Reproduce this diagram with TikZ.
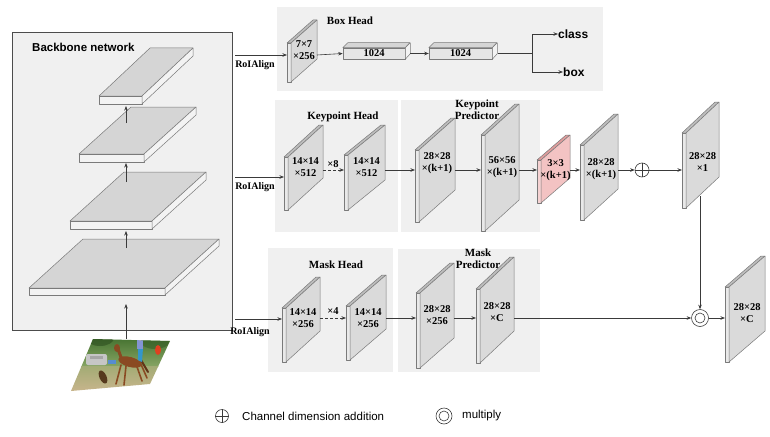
\documentclass[tikz,border=0pt]{standalone}
\usepackage{fontspec}
\setmainfont{Liberation Serif}
\newfontfamily\arialf{Liberation Sans}
\usetikzlibrary{arrows.meta}
\definecolor{edgec}{HTML}{7A7A7A}
\definecolor{linec}{HTML}{3A3A3A}
\definecolor{panelc}{HTML}{F0F0F0}
\definecolor{gstrip}{HTML}{E9E9E9}
\definecolor{gtop}{HTML}{BDBDBD}
\definecolor{gface}{HTML}{DADADA}
\definecolor{rstrip}{HTML}{F5D2D2}
\definecolor{rtop}{HTML}{E09C9C}
\definecolor{rface}{HTML}{F3C3C3}
\definecolor{slabtop}{HTML}{D5D5D5}
\definecolor{slabfront}{HTML}{F3F3F3}
\definecolor{boxfront}{HTML}{E6E6E6}
\definecolor{treec}{HTML}{3F6E2C}
\definecolor{grassc}{HTML}{86A463}
\definecolor{sandc}{HTML}{CDB68F}
\definecolor{horsec}{HTML}{8A4A22}
\tikzset{
  edge/.style={draw=edgec, line width=0.5pt, line join=round},
  arr/.style={draw=linec, line width=0.6pt, -{Stealth[length=4.5pt,width=3.5pt]}},
  plainline/.style={draw=linec, line width=0.6pt},
  ptext/.style={font=\fontsize{10.5}{12}\selectfont\bfseries, align=center, inner sep=0pt},
  titletext/.style={font=\fontsize{11}{11.5}\selectfont\bfseries, align=center, inner sep=0pt},
  roitext/.style={font=\fontsize{10}{12}\selectfont\bfseries, inner sep=0pt},
  sanslab/.style={font=\arialf\bfseries\fontsize{12}{14}\selectfont, inner sep=0pt},
  legtext/.style={font=\arialf\fontsize{11.5}{13}\selectfont, inner sep=0pt, anchor=west},
  panel/.style={fill=panelc, draw=none},
}
% plate: name, xl, ytop, h, dx, dy, colour prefix, text, text y
\newcommand\plt[9]{%
  \draw[edge, fill=#7strip] (#2,#3) rectangle ({#2+4},{#3+#4});
  \draw[edge, fill=#7top] (#2,#3) -- ({#2+#5},{#3-#6}) -- ({#2+4+#5},{#3-#6}) -- ({#2+4},#3) -- cycle;
  \draw[edge, fill=#7face] ({#2+4},#3) -- ({#2+4+#5},{#3-#6}) -- ({#2+4+#5},{#3-#6+#4}) -- ({#2+4},{#3+#4}) -- cycle;
  \coordinate (#1w) at (#2,\rowy);
  \coordinate (#1e) at ({#2+4+#5},\rowy);
  \node[ptext] (#1) at ({#2+4+#5/2},#9) {#8};
}
% slab: xl, yfront, w, t, ox, oy
\newcommand\slab[6]{%
  \draw[edge, fill=slabtop] (#1,#2) -- ({#1+#5},{#2-#6}) -- ({#1+#3+#5},{#2-#6}) -- ({#1+#3},#2) -- cycle;
  \draw[edge, fill=slabfront] (#1,#2) rectangle ({#1+#3},{#2+#4});
  \draw[edge, fill=slabfront] ({#1+#3},#2) -- ({#1+#3+#5},{#2-#6}) -- ({#1+#3+#5},{#2-#6+#4}) -- ({#1+#3},{#2+#4}) -- cycle;
}
\begin{document}
\begin{tikzpicture}[x=1pt,y=-1pt]
\useasboundingbox (0,0) rectangle (770,436);
% panels
\fill[panelc] (277,7) rectangle (603,91);
\fill[panelc] (275,100) rectangle (398,232);
\fill[panelc] (401,100) rectangle (540,232);
\fill[panelc] (268,248) rectangle (393,372);
\fill[panelc] (398,249) rectangle (540,372);
% backbone
\node[draw=black!70, line width=0.7pt, fill=panelc, minimum width=220pt, minimum height=298pt, inner sep=0pt, anchor=north west] (bb) at (12,32) {};
\node[sanslab, font=\arialf\bfseries\fontsize{11.5}{13}\selectfont, anchor=west] (bbl) at (32,47) {Backbone network};
\slab{99}{96}{43}{8}{51}{48}
\slab{79}{154}{65}{8}{52}{47}
\slab{70}{221}{82}{8}{54}{49}
\slab{29}{288}{136}{7}{54}{49}
\coordinate (s2up) at (126,123); \coordinate (s1dn) at (126,106);
\coordinate (s3up) at (126,182); \coordinate (s2dn) at (126,163);
\coordinate (s4up) at (126,248); \coordinate (s3dn) at (126,231);
\coordinate (imgtop) at (126,339); \coordinate (s4dn) at (126,304);
\draw[arr] (s2up) -- (s1dn);
\draw[arr] (s3up) -- (s2dn);
\draw[arr] (s4up) -- (s3dn);
\draw[arr] (imgtop) -- (s4dn);
% image (photo of a rider on a horse)
\begin{scope}
\clip (93,339) -- (170,341) -- (150,384) -- (71,391) -- cycle;
\shade[top color=treec, bottom color=grassc] (60,335) rectangle (175,366);
\shade[top color=grassc!60!sandc, bottom color=sandc] (60,366) rectangle (175,395);
\fill[treec!70!black, opacity=0.6] (100,338) ellipse (14pt and 8pt);
\fill[treec!80!black, opacity=0.5] (155,342) ellipse (14pt and 7pt);
\fill[gray!45, rounded corners=2pt] (86,354) rectangle (107,365);
\fill[gray!70] (90,356) rectangle (103,359);
\fill[cyan!50!blue!70] (108,360) rectangle (116,364);
\fill[horsec, rotate around={-15:(130,362)}] (130,362) ellipse (12pt and 5pt);
\draw[horsec, line width=3pt, line cap=round] (122,360) -- (118,349);
\fill[horsec] (117,348) ellipse (3pt and 4pt);
\draw[horsec, line width=1.6pt, line cap=round] (121,365) -- (116,384) (126,366) -- (124,385) (136,364) -- (142,381) (140,362) -- (147,378);
\draw[horsec!70!black, line width=2pt, line cap=round] (141,360) -- (148,372);
\fill[blue!35!cyan!60!gray] (138,348) -- (143,348) -- (142,362) -- (138,360) -- cycle;
\fill[cyan!30!blue!50] (137,340) rectangle (143,349);
\fill[brown!60!white] (140,338) circle (2.5pt);
\fill[brown!45!black, rotate around={25:(103,377)}] (103,377) ellipse (3.5pt and 7pt);
\fill[red!50!brown] (158,350) ellipse (3pt and 5pt);
\end{scope}
% RoIAlign
\coordinate (roi1) at (235,55);
\coordinate (roi2) at (235,177);
\coordinate (roi3) at (235,319);
\node[roitext] (r1) at (255,65) {RoIAlign};
\node[roitext] (r2) at (255,187) {RoIAlign};
\node[roitext] (r3) at (250,332) {RoIAlign};
% box head
\def\rowy{55}
\node[titletext] (boxhead) at (350,21) {Box Head};
\plt{P0}{287}{43}{39}{26}{23}{g}{7×7\\×256}{50}
\draw[arr] (roi1) -- (P0w);
\node[edge, fill=boxfront, minimum width=62pt, minimum height=11pt, inner sep=0pt, font=\fontsize{10.5}{12}\selectfont\bfseries] (B1) at (374,53.5) {1024};
\draw[edge, fill=slabtop] (B1.north west) -- ++(5,-5) -- ++(62,0) -- (B1.north east) -- cycle;
\draw[edge, fill=slabfront] (B1.north east) -- ++(5,-5) -- ++(0,11) -- (B1.south east) -- cycle;
\node[edge, fill=boxfront, minimum width=63pt, minimum height=11pt, inner sep=0pt, font=\fontsize{10.5}{12}\selectfont\bfseries] (B2) at (460.5,53.5) {1024};
\draw[edge, fill=slabtop] (B2.north west) -- ++(5,-5) -- ++(63,0) -- (B2.north east) -- cycle;
\draw[edge, fill=slabfront] (B2.north east) -- ++(5,-5) -- ++(0,11) -- (B2.south east) -- cycle;
\draw[arr] (P0e) -- (B1.west);
\draw[arr] ([xshift=5pt]B1.east) -- (B2.west);
\coordinate (B2out) at (498,53);
\coordinate (split) at (532,53);
\node[sanslab, anchor=west] (cls) at (558,34) {class};
\node[sanslab, anchor=west] (bx) at (563,72) {box};
\draw[plainline] (B2out) -- (split);
\draw[arr] (split) |- (cls.west);
\draw[arr] (split) |- (bx.west);
% keypoint branch
\def\rowy{170}
\node[titletext] (kphead) at (343,117) {Keypoint Head};
\node[titletext] (kppred) at (477,109.5) {Keypoint\\Predictor};
\plt{K1}{284}{157}{53}{35}{32}{g}{14×14\\×512}{167}
\plt{K2}{344}{155}{55}{37}{30}{g}{14×14\\×512}{167}
\plt{K3}{415}{150}{72}{36}{32}{g}{28×28\\×(k+1)}{163}
\plt{K4}{481}{135}{96}{34}{31}{g}{56×56\\×(k+1)}{167.5}
\plt{K5}{537}{160}{43}{29}{25}{r}{3×3\\×(k+1)}{170}
\plt{K6}{580}{145}{75}{34}{31}{g}{28×28\\×(k+1)}{169}
\plt{K7}{682}{133}{75}{33}{31}{g}{28×28\\×1}{162.5}
\draw[arr] (roi2) -- (roi2 -| K1w);
\draw[arr, densely dashed] (K1e) -- (K2w);
\node[ptext] (x8) at (333,164) {×8};
\draw[arr] (K2e) -- (K3w);
\draw[arr] (K3e) -- (K4w);
\draw[arr] (K4e) -- (K5w);
\draw[arr] (K5e) -- (K6w);
\node[circle, draw=linec, line width=0.6pt, minimum size=14pt, inner sep=0pt] (plus) at (642,170) {};
\draw[linec, line width=0.6pt] (plus.north) -- (plus.south) (plus.west) -- (plus.east);
\draw[arr] (K6e) -- (plus.west);
\draw[arr] (plus.east) -- (K7w);
% mask branch
\def\rowy{318}
\node[titletext] (mkhead) at (336,265) {Mask Head};
\node[titletext] (mkpred) at (478,258.5) {Mask\\Predictor};
\plt{M1}{282}{308}{54}{34}{31}{g}{14×14\\×256}{318.5}
\plt{M2}{346}{306}{54}{36}{31}{g}{14×14\\×256}{318.5}
\plt{M3}{416}{293}{75}{34}{30}{g}{28×28\\×256}{315.5}
\plt{M4}{476}{289}{74}{34}{32}{g}{28×28\\×C}{312.5}
\plt{M5}{725}{287}{75}{36}{31}{g}{28×28\\×C}{313}
\draw[arr] (roi3) -- (roi3 -| M1w);
\draw[arr, densely dashed] (M1e) -- (M2w);
\node[ptext] (x4) at (333,311) {×4};
\draw[arr] (M2e) -- (M3w);
\draw[arr] (M3e) -- (M4w);
\node[circle, draw=linec, line width=0.6pt, minimum size=17pt, inner sep=0pt] (mult) at (700,318) {};
\draw[linec, line width=0.6pt] (mult.center) circle (5pt);
\draw[arr] (M4e) -- (mult.west);
\draw[arr] (mult.east) -- (M5w);
\coordinate (K7b) at (700,196);
\draw[arr] (K7b) -- (mult.north);
% legend
\node[circle, draw=linec, line width=0.6pt, minimum size=13pt, inner sep=0pt] (lplus) at (222,416) {};
\draw[linec, line width=0.6pt] (lplus.north) -- (lplus.south) (lplus.west) -- (lplus.east);
\node[legtext] (laddt) at (242,416) {Channel dimension addition};
\node[circle, draw=linec, line width=0.6pt, minimum size=16pt, inner sep=0pt] (lmult) at (444,416) {};
\draw[linec, line width=0.6pt] (lmult.center) circle (5pt);
\node[legtext] (lmultt) at (462,416) {multiply};
\end{tikzpicture}
\end{document}
